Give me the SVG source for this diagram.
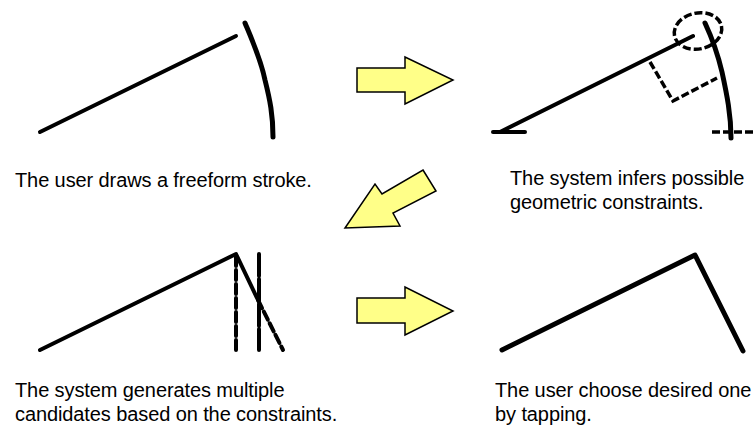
<svg xmlns="http://www.w3.org/2000/svg" width="756" height="429" viewBox="0 0 756 429">
<style>
.ln{fill:none;stroke:#000;stroke-width:4;stroke-linecap:round;stroke-linejoin:round}
.thick{fill:none;stroke:#000;stroke-width:5;stroke-linecap:round;stroke-linejoin:round}
.dash{fill:none;stroke:#000;stroke-width:3.5;stroke-dasharray:8 3}
.arrow{fill:#FFFF88;stroke:#000;stroke-width:1.5;stroke-linejoin:miter}
.t{font-family:"Liberation Sans",Arial,sans-serif;font-size:20px;fill:#000;letter-spacing:-0.1px}
</style>
<rect width="756" height="429" fill="#fff"/>
<g id="panel1">
<path class="ln" d="M40,132 L236,36"/>
<path class="thick" d="M245,23 C253,42 261,60 265,80 C270,100 273,115 273,137"/>
<text class="t" x="15" y="187">The user draws a freeform stroke.</text>
</g>
<g id="panel2">
<path class="ln" d="M500,132 L693,36"/>
<path class="ln" d="M493,132 L525,132"/>
<path class="thick" d="M705,23 C712,38 718,55 722,72 C727,95 731,115 731,138"/>
<path class="dash" d="M712,132 L753,132"/>
<path class="dash" d="M650,62 L673,101 L717,78"/>
<ellipse class="dash" cx="698" cy="31" rx="24" ry="18" transform="rotate(-12 698 31)"/>
<text class="t" x="510" y="185">The system infers possible</text>
<text class="t" x="510" y="209">geometric constraints.</text>
</g>
<g id="panel3">
<path class="ln" d="M40,350 L236,254 L258,300"/>
<path class="ln" d="M258,300 L283,350" stroke-dasharray="9 4"/>
<path class="ln" d="M236,256 L236,350" stroke-dasharray="10 4" stroke-linecap="butt"/>
<path class="ln" d="M259,254 L259,350" stroke-dasharray="22 3" stroke-linecap="butt"/>
<text class="t" x="15" y="397">The system generates multiple</text>
<text class="t" x="15" y="421">candidates based on the constraints.</text>
</g>
<g id="panel4">
<path class="thick" d="M502,350 L695,255 L743,351"/>
<text class="t" x="495" y="397">The user choose desired one</text>
<text class="t" x="495" y="421">by tapping.</text>
</g>
<g id="connectors">
<polygon class="arrow" points="357,68 405,68 405,57 453,80 405,104 405,92 357,92"/>
<polygon class="arrow" points="423,170 436,191 393,213 400,226 345,228 375,184 382,194"/>
<polygon class="arrow" points="357,298 405,298 405,287 453,311 405,335 405,323 357,323"/>
</g>
</svg>
